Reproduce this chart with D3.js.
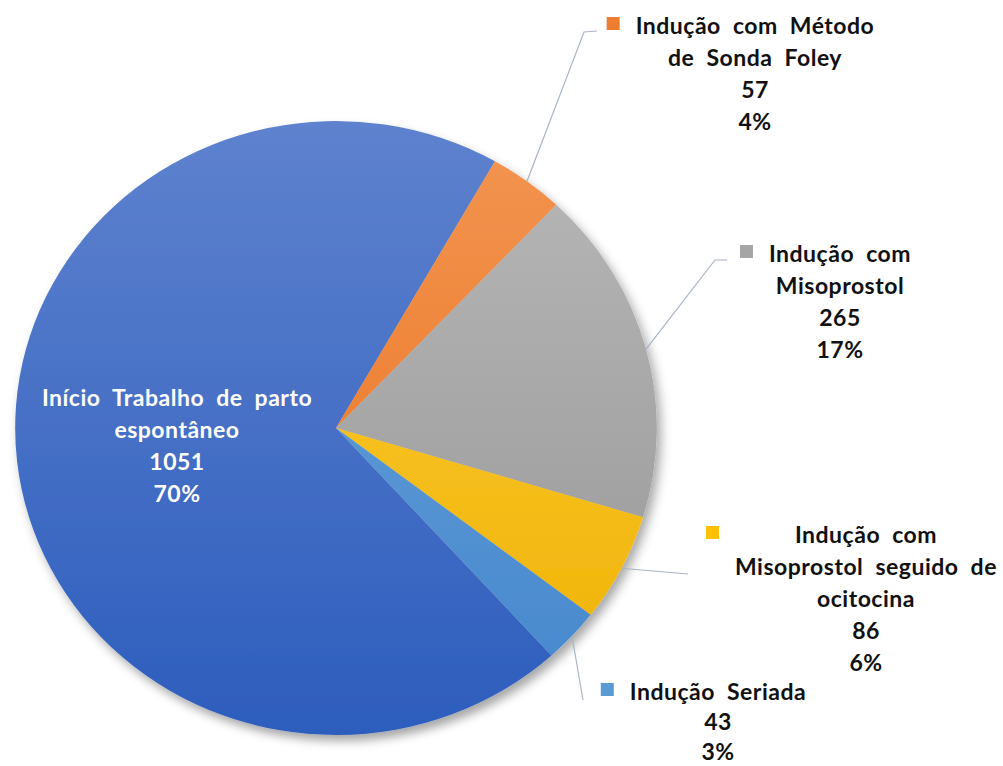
<!DOCTYPE html>
<html>
<head>
<meta charset="utf-8">
<script src="https://cdn.jsdelivr.net/npm/d3@7"></script>
<style>
    body { margin: 0; background: #fff; }
    text { font-family: Lato, "Open Sans", sans-serif; font-weight: bold; }
</style>
</head>
<body>
<div id="chart"></div>
<script>
"use strict";

// values
const categories = [
    "Início Trabalho de parto espontâneo",
    "Indução com Método de Sonda Foley",
    "Indução com Misoprostol",
    "Indução com Misoprostol seguido de ocitocina",
    "Indução Seriada"
];
const counts = [1051, 57, 265, 86, 43];
const percentLabels = ["70%", "4%", "17%", "6%", "3%"];
const labelLines = [
    ["Início Trabalho de parto", "espontâneo"],
    ["Indução com Método", "de Sonda Foley"],
    ["Indução com", "Misoprostol"],
    ["Indução com", "Misoprostol seguido de", "ocitocina"],
    ["Indução Seriada"]
];
const sliceColors = ["#4472c4", "#ed7d31", "#a5a5a5", "#ffc000", "#5b9bd5"];
const gradTop = ["#5e82ce", "#f39552", "#b8b8b8", "#ffd040", "#6aa6dd"];
const gradBottom = ["#2d5dbd", "#e86e18", "#959595", "#eeb000", "#4586cc"];

const cont = {
    width: 1003,
    height: 766,
    cx: 336,
    cy: 428,
    r: 307,
    stretchX: 1.045, // picture is a bit wider than tall
    lineH: 32
}

// where Excel put the labels (center x, first baseline) and the leader bends
const labelLayout = [
    { x: 177, y: 406, inside: true },
    { x: 755, y: 34, leader: [[584, 32], [597, 31]] },
    { x: 840, y: 262, leader: [[715, 260], [727, 260]] },
    { x: 866, y: 543, leader: [[688, 574]] },
    { x: 718, y: 700, lineH: 30, leader: [[583, 700]] }
];

let svgContainer = d3.select("#chart")
    .append("svg")
    .attr("width", cont.width)
    .attr("height", cont.height);

let defs = svgContainer.append("defs");

let shadow = defs.append("filter")
    .attr("id", "shadow")
    .attr("x", "-10%").attr("y", "-10%")
    .attr("width", "125%").attr("height", "125%");
shadow.append("feDropShadow")
    .attr("dx", 4)
    .attr("dy", 6)
    .attr("stdDeviation", 5)
    .attr("flood-color", "#000")
    .attr("flood-opacity", 0.35);

sliceColors.forEach((c, i) => {
    let g = defs.append("linearGradient")
        .attr("id", "grad" + i)
        .attr("gradientUnits", "userSpaceOnUse")
        .attr("x1", 0).attr("x2", 0)
        .attr("y1", -cont.r).attr("y2", cont.r);
    g.append("stop").attr("offset", "0%").attr("stop-color", gradTop[i]);
    g.append("stop").attr("offset", "100%").attr("stop-color", gradBottom[i]);
});

let startAngle = 137.8 * Math.PI / 180;
let pie = d3.pie()
    .sort(null)
    .startAngle(startAngle)
    .endAngle(startAngle + 2 * Math.PI)
    .value((d) => d);

let arcs = pie(counts);
let arc = d3.arc().innerRadius(0).outerRadius(cont.r);

let pieGroup = svgContainer.append("g")
    .attr("transform", "translate(" + cont.cx + "," + cont.cy + ") scale(" + cont.stretchX + ",1)")
    .attr("filter", "url(#shadow)");

pieGroup.selectAll("path")
    .data(arcs)
    .enter()
    .append("path")
    .attr("d", arc)
    .attr("fill", (d, i) => "url(#grad" + i + ")");

// point on the rim at the middle of a slice, in page coords
function rimPoint(d) {
    let a = (d.startAngle + d.endAngle) / 2;
    return [cont.cx + cont.stretchX * cont.r * Math.sin(a), cont.cy - cont.r * Math.cos(a)];
}

let line = d3.line();
arcs.forEach((d, i) => {
    let lay = labelLayout[i];
    if (!lay.leader) return;
    svgContainer.append("path")
        .attr("d", line([rimPoint(d)].concat(lay.leader)))
        .attr("fill", "none")
        .attr("stroke", "#aab4c4")
        .attr("stroke-width", 1.2);
});

const keySize = 13;
const keyGap = 16;

arcs.forEach((d, i) => {
    let lay = labelLayout[i];
    let lh = lay.lineH || cont.lineH;
    let lines = labelLines[i].concat([String(counts[i]), percentLabels[i]]);
    let fill = lay.inside ? "#ffffff" : "#111111";
    let g = svgContainer.append("g");
    let maxW = 0;
    lines.forEach((t, j) => {
        let txt = g.append("text")
            .attr("x", lay.x)
            .attr("y", lay.y + j * lh)
            .attr("text-anchor", "middle")
            .attr("font-size", 23)
            .attr("letter-spacing", 0.5)
            .attr("word-spacing", 6)
            .attr("fill", fill)
            .text(t);
        maxW = Math.max(maxW, txt.node().getComputedTextLength());
    });
    if (!lay.inside) {
        // legend key hangs to the left of the label box
        g.append("rect")
            .attr("x", lay.x - maxW / 2 - keyGap - keySize)
            .attr("y", lay.y - 17)
            .attr("width", keySize)
            .attr("height", keySize)
            .attr("fill", sliceColors[i]);
    }
});
</script>
</body>
</html>
